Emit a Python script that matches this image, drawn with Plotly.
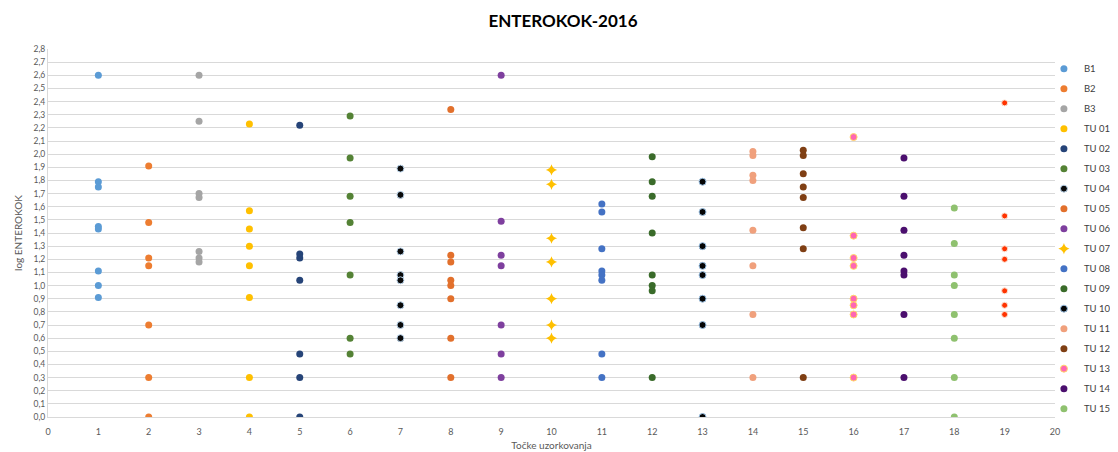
import plotly.graph_objects as go

# x positions (sampling points) per series and log values
names = ["B1", "B2", "B3", "TU 01", "TU 02", "TU 03", "TU 04", "TU 05", "TU 06",
         "TU 07", "TU 08", "TU 09", "TU 10", "TU 11", "TU 12", "TU 13", "TU 14", "TU 15", "TU 16"]
points = [1, 2, 3, 4, 5, 6, 7, 8, 9, 10, 11, 12, 13, 14, 15, 16, 17, 18, 19]

b1 = [2.60, 1.79, 1.75, 1.45, 1.43, 1.11, 1.00, 0.91]
b2 = [1.91, 1.48, 1.21, 1.15, 0.70, 0.30, 0.00]
b3 = [2.60, 2.25, 1.70, 1.67, 1.26, 1.21, 1.18]
tu01 = [2.23, 1.57, 1.43, 1.30, 1.15, 0.91, 0.30, 0.00]
tu02 = [2.22, 1.24, 1.21, 1.04, 0.48, 0.30, 0.00]
tu03 = [2.29, 1.97, 1.68, 1.48, 1.08, 0.60, 0.48]
tu04 = [1.89, 1.69, 1.26, 1.08, 1.04, 0.85, 0.70, 0.60]
tu05 = [2.34, 1.23, 1.18, 1.04, 1.00, 0.90, 0.60, 0.30]
tu06 = [2.60, 1.49, 1.23, 1.15, 0.70, 0.48, 0.30]
tu07 = [1.88, 1.77, 1.36, 1.18, 0.90, 0.70, 0.60]
tu08 = [1.62, 1.56, 1.28, 1.11, 1.08, 1.04, 0.48, 0.30]
tu09 = [1.98, 1.79, 1.68, 1.40, 1.08, 1.00, 0.96, 0.30]
tu10 = [1.79, 1.56, 1.30, 1.15, 1.08, 0.90, 0.70, 0.00]
tu11 = [2.02, 1.99, 1.84, 1.80, 1.42, 1.15, 0.78, 0.30]
tu12 = [2.03, 1.99, 1.85, 1.75, 1.67, 1.44, 1.28, 0.30]
tu13 = [2.13, 1.38, 1.21, 1.15, 0.90, 0.85, 0.78, 0.30]
tu14 = [1.97, 1.68, 1.42, 1.23, 1.11, 1.08, 0.78, 0.30]
tu15 = [1.59, 1.32, 1.08, 1.00, 0.78, 0.60, 0.30, 0.00]
tu16 = [2.39, 1.53, 1.28, 1.20, 0.96, 0.85, 0.78]

series = [b1, b2, b3, tu01, tu02, tu03, tu04, tu05, tu06, tu07, tu08, tu09,
          tu10, tu11, tu12, tu13, tu14, tu15, tu16]

colors = ["#5B9BD5", "#ED7D31", "#A5A5A5", "#FFC000", "#264478", "#548235",
          "#0A0A0A", "#E2702C", "#7E3F9E", "#FFC000", "#4472C4", "#3A6B2A",
          "#050505", "#F0A07C", "#7F3F14", "#FF66B3", "#4B0F6E", "#8FC16F", "#FF3300"]
line_colors = [None, None, None, None, None, None, "#BDD7EE", None, None, None, None, None,
               "#9DC3E6", None, None, "#FFD966", None, None, "#FBE5D6"]
symbols = ["circle"] * 19
symbols[9] = "star-diamond"
sizes = [7] * 19
sizes[9] = 8
sizes[18] = 6

fig = go.Figure()
for i, (nm, xp, vals) in enumerate(zip(names, points, series)):
    lc = line_colors[i]
    fig.add_trace(go.Scatter(
        x=[xp] * len(vals), y=vals, mode="markers", name=nm,
        legendgroup=nm, showlegend=(i < 18),
        marker=dict(color=colors[i], size=sizes[i], symbol=symbols[i],
                    line=dict(color=lc if lc else colors[i], width=1 if lc else 0)),
    ))

font_family = "Lato, 'Open Sans', sans-serif"
fig.update_layout(
    width=1110, height=444,
    margin=dict(l=40, r=63, t=41, b=35, autoexpand=False),
    paper_bgcolor="white", plot_bgcolor="white",
    separators=",.",
    font=dict(family=font_family, color="#595959", size=9),
    title=dict(text="<b>ENTEROKOK-2016</b>", x=0.5, xanchor="center", y=0.971, yanchor="middle",
               font=dict(size=17, color="#000000", family=font_family)),
    xaxis=dict(range=[0, 20], dtick=1, tick0=0, showgrid=False, zeroline=False,
               showline=True, linecolor="#D9D9D9", linewidth=1,
               ticks="", ticklabelstandoff=6, tickfont=dict(size=9, color="#595959"),
               title=dict(text="Točke uzorkovanja", font=dict(size=10, color="#595959"), standoff=6)),
    yaxis=dict(range=[0, 2.8], dtick=0.1, tick0=0, tickformat=".1f",
               showgrid=True, gridcolor="#D9D9D9", gridwidth=1, zeroline=False,
               showline=True, linecolor="#D9D9D9", linewidth=1, ticks="",
               tickfont=dict(size=8.5, color="#595959"),
               title=dict(text="log ENTEROKOK", font=dict(size=10, color="#595959"), standoff=9)),
    legend=dict(x=0.989, xanchor="left", y=0.986, yanchor="top",
                font=dict(size=9.5, color="#404040", family=font_family),
                tracegroupgap=1, itemwidth=30, bgcolor="rgba(0,0,0,0)"),
    showlegend=True,
)

fig.write_html("out.html")
